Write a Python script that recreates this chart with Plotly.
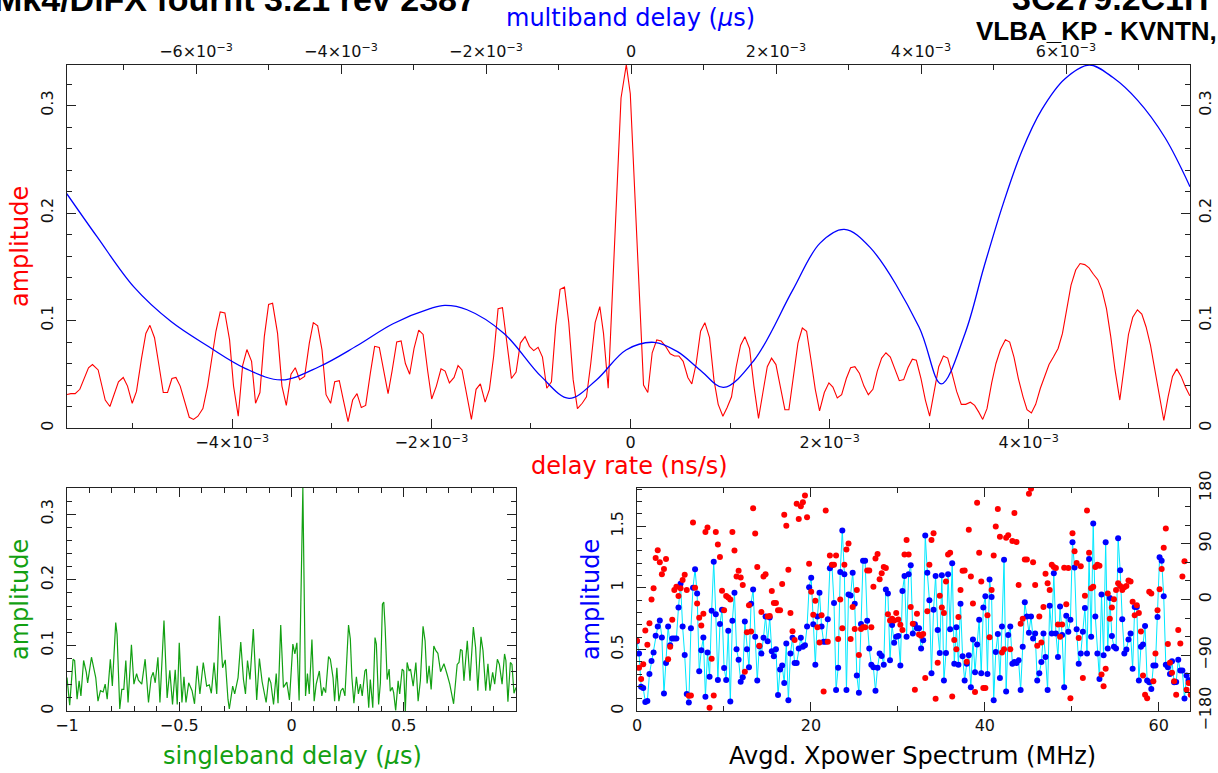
import plotly.graph_objects as go

# ---------------- data ----------------
# delay-rate amplitude (red, top panel); x in units of 1e-3 ns/s
rate_e3 = [-5.671, -5.621, -5.578, -5.531, -5.444, -5.404, -5.347, -5.276, -5.229, -5.143,
           -5.095, -5.052, -5.005, -4.962, -4.911, -4.868, -4.827, -4.781, -4.734, -4.693,
           -4.650, -4.606, -4.566, -4.523, -4.432, -4.389, -4.345, -4.295, -4.248, -4.164,
           -4.121, -4.074, -4.027, -3.987, -3.940, -3.896, -3.853, -3.806, -3.766, -3.722,
           -3.678, -3.635, -3.595, -3.545, -3.501, -3.457, -3.410, -3.367, -3.323, -3.273,
           -3.226, -3.186, -3.142, -3.099, -3.058, -3.012, -2.971, -2.925, -2.884, -2.837,
           -2.791, -2.747, -2.704, -2.660, -2.613, -2.570, -2.523, -2.479, -2.435, -2.395,
           -2.348, -2.304, -2.261, -2.218, -2.174, -2.127, -2.083, -2.037, -1.997, -1.950,
           -1.903, -1.862, -1.819, -1.772, -1.732, -1.692, -1.641, -1.598, -1.551, -1.508,
           -1.460, -1.417, -1.374, -1.330, -1.286, -1.243, -1.196, -1.149, -1.106, -1.059,
           -1.015, -0.972, -0.928, -0.884, -0.841, -0.794, -0.751, -0.707, -0.663, -0.620,
           -0.576, -0.533, -0.485, -0.442, -0.399, -0.355, -0.308, -0.271, -0.224, -0.095,
           -0.042, -0.002, 0.131, 0.174, 0.218, 0.264, 0.308, 0.352, 0.399, 0.442,
           0.486, 0.529, 0.576, 0.616, 0.660, 0.704, 0.747, 0.794, 0.838, 0.881,
           0.928, 0.971, 1.015, 1.062, 1.106, 1.149, 1.196, 1.240, 1.286, 1.330,
           1.374, 1.417, 1.461, 1.504, 1.551, 1.591, 1.635, 1.682, 1.726, 1.769,
           1.812, 1.856, 1.899, 1.947, 1.993, 2.033, 2.077, 2.121, 2.168, 2.211,
           2.254, 2.299, 2.345, 2.389, 2.435, 2.479, 2.523, 2.566, 2.610, 2.656,
           2.700, 2.744, 2.787, 2.831, 2.871, 2.918, 2.962, 3.005, 3.052, 3.096,
           3.143, 3.186, 3.229, 3.276, 3.323, 3.367, 3.414, 3.457, 3.497, 3.538,
           3.581, 3.628, 3.671, 3.716, 3.766, 3.809, 3.852, 3.896, 3.943, 3.983,
           4.027, 4.070, 4.117, 4.161, 4.204, 4.248, 4.295, 4.339, 4.382, 4.425,
           4.472, 4.516, 4.563, 4.606, 4.650, 4.694, 4.737, 4.781, 4.824, 4.867,
           4.915, 4.958, 5.002, 5.045, 5.092, 5.136, 5.179, 5.223, 5.266, 5.310,
           5.357, 5.400, 5.444, 5.487, 5.531, 5.575, 5.618]
rate_amp = [0.031, 0.032, 0.032, 0.036, 0.056, 0.059, 0.054, 0.026, 0.020, 0.043,
            0.047, 0.039, 0.023, 0.034, 0.065, 0.088, 0.0955, 0.084, 0.057, 0.033,
            0.033, 0.046, 0.047, 0.039, 0.010, 0.008, 0.011, 0.018, 0.039, 0.090,
            0.108, 0.107, 0.082, 0.039, 0.011, 0.058, 0.073, 0.062, 0.023, 0.033,
            0.085, 0.115, 0.116, 0.088, 0.039, 0.021, 0.050, 0.056, 0.045, 0.048,
            0.079, 0.098, 0.095, 0.073, 0.031, 0.023, 0.043, 0.044, 0.026, 0.006,
            0.026, 0.032, 0.019, 0.021, 0.051, 0.076, 0.075, 0.054, 0.032, 0.053,
            0.080, 0.081, 0.060, 0.050, 0.074, 0.091, 0.087, 0.053, 0.027, 0.039,
            0.055, 0.053, 0.042, 0.047, 0.058, 0.054, 0.029, 0.008, 0.036, 0.041,
            0.024, 0.036, 0.067, 0.111, 0.112, 0.082, 0.046, 0.052, 0.079, 0.085,
            0.076, 0.072, 0.075, 0.066, 0.037, 0.043, 0.095, 0.129, 0.131, 0.098,
            0.045, 0.018, 0.023, 0.029, 0.060, 0.098, 0.113, 0.088, 0.037, 0.307,
            0.338, 0.311, 0.040, 0.033, 0.070, 0.082, 0.081, 0.076, 0.069, 0.067,
            0.067, 0.062, 0.047, 0.041, 0.060, 0.090, 0.098, 0.084, 0.045, 0.022,
            0.011, 0.019, 0.029, 0.057, 0.077, 0.085, 0.074, 0.039, 0.009, 0.033,
            0.057, 0.065, 0.059, 0.039, 0.017, 0.017, 0.048, 0.079, 0.093, 0.090,
            0.064, 0.036, 0.016, 0.033, 0.042, 0.038, 0.028, 0.031, 0.046, 0.056,
            0.057, 0.051, 0.039, 0.031, 0.036, 0.053, 0.065, 0.070, 0.066, 0.054,
            0.044, 0.045, 0.056, 0.064, 0.063, 0.046, 0.026, 0.011, 0.034, 0.057,
            0.067, 0.065, 0.051, 0.034, 0.022, 0.022, 0.024, 0.021, 0.015, 0.008,
            0.018, 0.042, 0.060, 0.073, 0.082, 0.080, 0.066, 0.046, 0.029, 0.017,
            0.014, 0.022, 0.037, 0.049, 0.059, 0.066, 0.074, 0.088, 0.111, 0.133,
            0.147, 0.153, 0.152, 0.149, 0.143, 0.138, 0.128, 0.111, 0.085, 0.054,
            0.026, 0.057, 0.087, 0.103, 0.110, 0.106, 0.094, 0.077, 0.054, 0.029,
            0.007, 0.029, 0.048, 0.055, 0.048, 0.038, 0.030]

# multiband delay amplitude (blue, top panel); x in units of 1e-3 us
mbd_e3 = [-7.783, -7.366, -6.855, -6.345, -5.834, -5.324, -4.821, -4.303, -3.793, -3.283,
          -2.772, -2.568, -2.262, -1.752, -1.241, -0.855, -0.477, -0.069, 0.317, 0.641,
          0.952, 1.276, 1.697, 2.228, 2.607, 2.941, 3.297, 3.972, 4.279, 4.607,
          4.869, 5.135, 5.393, 5.663, 5.986, 6.324, 6.648, 6.985, 7.366, 7.710]
mbd_amp = [0.218, 0.178, 0.131, 0.099, 0.076, 0.0555, 0.0447, 0.057, 0.076, 0.097,
           0.111, 0.114, 0.110, 0.088, 0.048, 0.0276, 0.0447, 0.0726, 0.0797, 0.071,
           0.054, 0.0378, 0.063, 0.128, 0.172, 0.1848, 0.168, 0.094, 0.041, 0.088,
           0.150, 0.209, 0.258, 0.296, 0.325, 0.3377, 0.326, 0.305, 0.270, 0.2245]

# singleband delay amplitude (green, bottom left); x in us
sbd_x = [-1.000, -0.988, -0.973, -0.966, -0.955, -0.946, -0.938, -0.926, -0.914, -0.908,
         -0.891, -0.879, -0.872, -0.862, -0.851, -0.839, -0.830, -0.821, -0.807, -0.798,
         -0.783, -0.777, -0.765, -0.756, -0.747, -0.738, -0.728, -0.713, -0.702, -0.690,
         -0.682, -0.667, -0.652, -0.637, -0.625, -0.616, -0.607, -0.595, -0.586, -0.568,
         -0.554, -0.542, -0.530, -0.518, -0.509, -0.500, -0.488, -0.479, -0.470, -0.458,
         -0.443, -0.432, -0.420, -0.408, -0.393, -0.378, -0.366, -0.357, -0.345, -0.333,
         -0.321, -0.307, -0.295, -0.283, -0.277, -0.262, -0.253, -0.238, -0.226, -0.214,
         -0.205, -0.196, -0.185, -0.170, -0.155, -0.143, -0.131, -0.113, -0.101, -0.092,
         -0.080, -0.068, -0.060, -0.048, -0.036, -0.021, -0.009, 0.006, 0.015, 0.024,
         0.034, 0.0506, 0.0625, 0.071, 0.079, 0.091, 0.101, 0.110, 0.124, 0.135,
         0.143, 0.152, 0.165, 0.173, 0.185, 0.192, 0.202, 0.211, 0.220, 0.229,
         0.238, 0.254, 0.262, 0.269, 0.278, 0.289, 0.298, 0.307, 0.315, 0.327,
         0.333, 0.344, 0.351, 0.362, 0.372, 0.378, 0.388, 0.396, 0.405, 0.411,
         0.417, 0.426, 0.435, 0.440, 0.449, 0.455, 0.464, 0.475, 0.482, 0.493,
         0.500, 0.507, 0.515, 0.524, 0.530, 0.542, 0.554, 0.564, 0.574, 0.586,
         0.595, 0.604, 0.613, 0.622, 0.634, 0.643, 0.652, 0.664, 0.679, 0.693,
         0.705, 0.722, 0.738, 0.746, 0.753, 0.760, 0.768, 0.783, 0.795, 0.810,
         0.820, 0.830, 0.844, 0.853, 0.865, 0.875, 0.884, 0.896, 0.905, 0.917,
         0.926, 0.938, 0.949, 0.955, 0.964, 0.975, 0.982, 0.991, 1.000]
sbd_amp = [0.051, 0.009, 0.079, 0.077, 0.018, 0.046, 0.023, 0.077, 0.059, 0.043,
           0.082, 0.061, 0.051, 0.015, 0.031, 0.029, 0.041, 0.018, 0.079, 0.038,
           0.135, 0.117, 0.003, 0.033, 0.033, 0.077, 0.013, 0.101, 0.041, 0.057,
           0.047, 0.041, 0.079, 0.013, 0.051, 0.059, 0.043, 0.082, 0.013, 0.138,
           0.020, 0.062, 0.010, 0.063, 0.010, 0.104, 0.013, 0.052, 0.013, 0.043,
           0.031, 0.011, 0.069, 0.026, 0.074, 0.038, 0.040, 0.027, 0.074, 0.026,
           0.145, 0.066, 0.078, 0.018, 0.003, 0.038, 0.026, 0.051, 0.105, 0.048,
           0.026, 0.077, 0.048, 0.125, 0.017, 0.080, 0.045, 0.013, 0.051, 0.043,
           0.010, 0.057, 0.012, 0.131, 0.036, 0.044, 0.017, 0.102, 0.087, 0.104,
           0.016, 0.340, 0.023, 0.057, 0.026, 0.109, 0.015, 0.041, 0.061, 0.023,
           0.036, 0.028, 0.083, 0.079, 0.051, 0.015, 0.066, 0.015, 0.031, 0.035,
           0.023, 0.131, 0.110, 0.051, 0.012, 0.052, 0.026, 0.041, 0.023, 0.061,
           0.064, 0.005, 0.048, 0.005, 0.112, 0.102, 0.010, 0.043, 0.163, 0.166,
           0.128, 0.048, 0.064, 0.030, 0.036, 0.028, 0.001, 0.046, 0.026, 0.064,
           0.061, 0.000, 0.074, 0.061, 0.064, 0.038, 0.074, 0.015, 0.046, 0.129,
           0.107, 0.042, 0.069, 0.033, 0.099, 0.092, 0.088, 0.060, 0.072, 0.056,
           0.041, 0.011, 0.071, 0.074, 0.094, 0.092, 0.046, 0.107, 0.046, 0.128,
           0.097, 0.031, 0.113, 0.092, 0.031, 0.072, 0.031, 0.059, 0.041, 0.079,
           0.071, 0.041, 0.087, 0.077, 0.014, 0.074, 0.071, 0.027, 0.036]

# averaged cross-power spectrum: amplitude (blue) and phase in degrees (red)
chan_mhz = 0.2385  # channel spacing of the spectrum (MHz)
xp_amp = [0.567, 0.466, 0.197, 0.186, 0.074, 0.082, 0.301, 0.405, 0.474, 0.611,
          0.685, 0.734, 0.597, 0.142, 0.389, 0.685, 0.534, 0.589, 0.589, 0.589,
          0.841, 1.033, 0.685, 0.455, 0.137, 0.068, 0.671, 1.000, 1.151, 0.953,
          0.323, 0.493, 0.597, 0.115, 0.474, 0.279, 0.814, 1.211, 0.786, 0.252,
          0.707, 0.822, 0.348, 0.252, 0.652, 0.077, 0.732, 0.959, 0.501, 0.416,
          0.238, 0.274, 0.726, 0.501, 0.356, 0.871, 0.986, 0.603, 0.247, 0.526,
          0.466, 0.595, 0.767, 0.567, 0.759, 0.485, 0.444, 0.501, 0.129, 0.337,
          0.370, 0.227, 0.548, 0.088, 0.466, 0.595, 0.389, 0.389, 0.507, 0.595,
          0.521, 0.534, 0.685, 1.005, 1.082, 0.704, 0.375, 0.767, 0.959, 0.685,
          0.562, 0.562, 0.745, 1.159, 1.184, 0.877, 0.170, 0.351, 1.129, 1.466,
          1.110, 0.170, 0.945, 0.937, 1.123, 0.871, 0.288, 0.148, 0.707, 1.219,
          1.219, 0.732, 0.507, 0.375, 0.356, 0.164, 0.351, 0.466, 0.447, 0.375,
          0.986, 0.953, 0.411, 0.699, 0.553, 0.603, 0.608, 0.370, 0.973, 1.096,
          0.603, 1.110, 1.184, 0.630, 0.704, 0.671, 0.671, 0.507, 0.575, 1.425,
          1.123, 0.899, 0.307, 0.822, 1.096, 0.658, 0.471, 1.101, 0.247, 0.471,
          1.110, 0.663, 1.200, 0.384, 0.679, 0.375, 0.871, 0.444, 0.247, 0.384,
          0.452, 0.192, 0.581, 0.315, 0.540, 0.740, 0.307, 0.841, 0.932, 0.301,
          1.068, 0.926, 0.088, 0.479, 0.625, 0.268, 0.685, 1.227, 0.159, 0.616,
          0.685, 0.384, 0.397, 0.389, 0.411, 0.170, 0.521, 0.882, 0.767, 0.636,
          0.767, 0.589, 0.630, 0.247, 0.307, 0.397, 0.630, 0.438, 0.170, 0.855,
          0.630, 1.118, 0.630, 0.438, 0.849, 0.616, 0.192, 0.773, 0.644, 0.740,
          1.370, 1.164, 0.663, 0.384, 0.466, 0.644, 0.836, 0.466, 1.233, 0.603,
          1.521, 0.767, 0.466, 0.260, 0.945, 0.452, 1.370, 0.507, 0.918, 0.608,
          0.521, 0.507, 1.403, 1.142, 0.745, 0.466, 0.499, 0.581, 0.630, 0.342,
          0.844, 0.844, 0.247, 0.521, 0.540, 0.690, 0.247, 0.233, 0.178, 0.370,
          0.370, 0.762, 1.247, 1.219, 0.932, 0.375, 0.356, 0.301, 0.403, 0.233,
          0.236, 0.416, 0.329, 0.329, 0.101, 0.288, 0.247, 0.252]
xp_phase = [-66.5, -110.2, -128.2, -104.7, -50.2, -73.1, -38.2, 0.0, 18.0, 67.1,
            79.6, 60.0, 40.9, 49.1, 65.5, -96.6, -76.4, -32.7, 15.3, 20.7,
            5.5, 18.0, 31.6, 39.8, 15.3, -155.5, -154.9, 124.4, 19.1, -6.5,
            -29.5, -42.0, -22.9, 109.1, 116.2, -174.6, -95.5, -154.9, 109.1, 88.9,
            68.7, 14.2, -17.5, 5.5, 3.3, 0.0, 109.1, 79.1, 37.1, 46.4,
            35.5, 23.5, -116.7, -52.9, -9.3, -51.8, 147.3, 106.4, 52.4, -74.7,
            -20.2, 37.1, 40.9, -27.3, -26.7, 13.6, -5.5, -5.5, -17.5, -17.5,
            25.1, 136.9, 118.9, 48.0, -21.8, -51.3, -65.5, 154.4, 129.8, 150.6,
            157.1, 168.0, 132.6, 57.8, 12.5, -24.5, -2.2, -44.7, -69.3, -25.6,
            -148.4, 143.5, -68.2, 70.9, 56.2, 56.2, 70.9, -63.8, 0.0, -46.4,
            56.2, 80.7, 90.6, -63.8, -12.0, -47.5, 15.3, -89.5, -47.5, -44.7,
            -44.7, 46.9, 46.9, -44.7, 20.7, 66.0, 73.6, 32.7, 42.5, 52.4,
            50.7, -24.0, -33.8, -31.1, -33.8, -21.8, -32.2, -40.9, -49.1, 72.6,
            96.0, 72.6, -12.0, -39.3, -145.6, -22.9, -56.7, -58.4, -55.6, -126.6,
            -19.1, 56.2, 96.0, 106.9, -160.4, -102.0, 6.0, -13.1, -21.8, 28.9,
            72.6, 75.3, -156.6, -65.5, -80.2, -28.4, 15.3, 46.4, 46.9, -100.4,
            112.4, 37.1, -6.5, -149.5, 156.0, 75.3, 28.9, -142.9, -142.9, -25.6,
            -61.1, 15.3, 70.9, 117.8, 146.2, 101.5, -85.6, -80.2, 99.8, 103.6,
            -80.2, 94.4, 139.6, 92.7, 23.5, -39.3, -31.1, 64.4, 64.4, 170.7,
            178.9, 60.0, 23.5, -74.7, -27.3, -69.3, -12.0, 41.5, 26.2, 15.3,
            56.2, 52.4, 50.7, -40.4, -60.0, -40.4, 51.3, -7.6, 50.7, -159.3,
            106.9, 78.0, 58.9, -62.2, 53.5, -126.6, 6.0, 143.5, 75.3, 18.0,
            20.7, 52.4, 56.2, 54.6, -121.1, -140.2, -111.8, 9.8, -31.1, -13.1,
            0.5, 15.3, 26.2, 21.8, 15.3, 19.6, 21.8, 30.5, 28.9, -3.8,
            -25.6, -9.3, -21.8, -51.8, -122.7, -153.8, -159.3, 12.5, 9.8, -132.0,
            -87.3, -17.5, 16.4, 49.1, 83.5, 114.6, -72.0, -102.0, -118.4, -132.0,
            -153.8, -49.1, -70.9, 37.1, 61.6, -145.6, -134.7, -153.8]

# tick labels
rate_ticks = [-4e-3, -2e-3, 0, 2e-3, 4e-3]
rate_ticktext = ["\u22124\u00d710<sup>\u22123</sup>", "\u22122\u00d710<sup>\u22123</sup>", "0",
                 "2\u00d710<sup>\u22123</sup>", "4\u00d710<sup>\u22123</sup>"]
mbd_ticks = [-6e-3, -4e-3, -2e-3, 0, 2e-3, 4e-3, 6e-3]
mbd_ticktext = ["\u22126\u00d710<sup>\u22123</sup>", "\u22124\u00d710<sup>\u22123</sup>",
                "\u22122\u00d710<sup>\u22123</sup>", "0", "2\u00d710<sup>\u22123</sup>",
                "4\u00d710<sup>\u22123</sup>", "6\u00d710<sup>\u22123</sup>"]
amp_ticks = [0, 0.1, 0.2, 0.3]
amp_ticktext = ["0", "0.1", "0.2", "0.3"]
sbd_ticks = [-1, -0.5, 0, 0.5]
sbd_ticktext = ["\u22121", "\u22120.5", "0", "0.5"]
freq_ticks = [0, 20, 40, 60]
xamp_ticks = [0, 0.5, 1, 1.5]
xamp_ticktext = ["0", "0.5", "1", "1.5"]
phase_ticks = [-180, -90, 0, 90, 180]
phase_ticktext = ["\u2212180", "\u221290", "0", "90", "180"]

# ---------------- figure ----------------
W, H = 1218, 773
FONT = "DejaVu Sans"
RED, BLUE, GREEN = "#ff0000", "#0000ff", "#12a012"

rate_x = [v * 1e-3 for v in rate_e3]
mbd_x = [v * 1e-3 for v in mbd_e3]
freq = [i * chan_mhz for i in range(len(xp_amp))]
freq_ph = [i * chan_mhz for i in range(len(xp_phase))]

fig = go.Figure()
fig.add_trace(go.Scatter(x=rate_x, y=rate_amp, mode="lines", xaxis="x", yaxis="y",
                         line=dict(color=RED, width=1.1)))
fig.add_trace(go.Scatter(x=mbd_x, y=mbd_amp, mode="lines", xaxis="x2", yaxis="y",
                         line=dict(color=BLUE, width=1.3, shape="spline", smoothing=1.0)))
fig.add_trace(go.Scatter(x=sbd_x, y=sbd_amp, mode="lines", xaxis="x3", yaxis="y3",
                         line=dict(color=GREEN, width=1.2)))
fig.add_trace(go.Scatter(x=freq, y=xp_amp, mode="lines+markers", xaxis="x4", yaxis="y4",
                         line=dict(color="#00e8ff", width=1),
                         marker=dict(color=BLUE, size=6, line=dict(width=0))))
fig.add_trace(go.Scatter(x=freq_ph, y=xp_phase, mode="markers", xaxis="x4", yaxis="y5",
                         marker=dict(color=RED, size=6, line=dict(width=0))))
# invisible trace so the right-hand amplitude axis of the top panel is drawn
fig.add_trace(go.Scatter(x=[None], y=[None], xaxis="x", yaxis="y2", showlegend=False))

top_x = [67 / W, 1190 / W]
top_y = [1 - 428 / H, 1 - 65 / H]
bl_x = [67 / W, 516 / W]
br_x = [637 / W, 1190 / W]
bot_y = [1 - 711 / H, 1 - 488 / H]

tickfont = dict(family=FONT, size=16, color="#111")
base = dict(showgrid=False, zeroline=False, showline=True, linecolor="#222", linewidth=1.4,
            ticks="inside", ticklen=9, tickwidth=1.3, tickcolor="#222", tickfont=tickfont,
            automargin=False)
ybase = dict(base, ticklabelstandoff=6)
rbase = dict(base, ticklabelstandoff=1)


def minor(vals, length=5):
    return dict(tickmode="array", tickvals=vals, ticks="inside", ticklen=length,
                tickwidth=1.2, tickcolor="#222")


def frange(a, b, step):
    out, v = [], a
    while v <= b + 1e-12:
        out.append(round(v, 10))
        v += step
    return out


fig.update_layout(
    template="none",
    width=W, height=H, margin=dict(l=0, r=0, t=0, b=0, autoexpand=False),
    paper_bgcolor="white", plot_bgcolor="white", showlegend=False,
    xaxis=dict(base, domain=top_x, anchor="y", range=[-5.66e-3, 5.62e-3], mirror=True,
               tickmode="array", tickvals=rate_ticks, ticktext=rate_ticktext,
               minor=minor(frange(-5e-3, 5e-3, 1e-3))),
    xaxis2=dict(base, overlaying="x", side="top", anchor="y", range=[-7.78e-3, 7.71e-3],
                tickmode="array", tickvals=mbd_ticks, ticktext=mbd_ticktext,
                minor=minor(frange(-7e-3, 7e-3, 1e-3))),
    yaxis=dict(ybase, domain=top_y, anchor="x", range=[0, 0.3377], mirror=True,
               tickmode="array", tickvals=amp_ticks, ticktext=amp_ticktext, tickangle=-90,
               minor=minor(frange(0, 0.33, 0.02))),
    yaxis2=dict(rbase, overlaying="y", side="right", anchor="x", range=[0, 0.3377],
                tickmode="array", tickvals=amp_ticks, ticktext=amp_ticktext, tickangle=-90,
                minor=minor(frange(0, 0.33, 0.02))),
    xaxis3=dict(base, domain=bl_x, anchor="y3", range=[-1, 1.0], mirror="ticks",
                tickmode="array", tickvals=sbd_ticks, ticktext=sbd_ticktext,
                minor=minor(frange(-0.9, 0.9, 0.1))),
    yaxis3=dict(ybase, domain=bot_y, anchor="x3", range=[0, 0.34], mirror="ticks",
                tickmode="array", tickvals=amp_ticks, ticktext=amp_ticktext, tickangle=-90,
                minor=minor(frange(0, 0.34, 0.02))),
    xaxis4=dict(base, domain=br_x, anchor="y4", range=[0, 63.6], mirror="ticks",
                tickmode="array", tickvals=freq_ticks, ticktext=[str(v) for v in freq_ticks],
                minor=minor(frange(10, 60, 10))),
    yaxis4=dict(ybase, domain=bot_y, anchor="x4", range=[0, 1.81], mirror=True,
                tickmode="array", tickvals=xamp_ticks, ticktext=xamp_ticktext, tickangle=-90,
                minor=minor(frange(0.1, 1.8, 0.1))),
    yaxis5=dict(rbase, overlaying="y4", side="right", anchor="x4", range=[-180, 180],
                tickmode="array", tickvals=phase_ticks, ticktext=phase_ticktext, tickangle=-90,
                minor=minor(frange(-150, 150, 30))),
)

TF = 24


def ann(text, x, y, color, size=TF, angle=0, xanchor="center", yanchor="middle",
        family=FONT):
    fig.add_annotation(text=text, x=x / W, y=1 - y / H, xref="paper", yref="paper",
                       showarrow=False, textangle=angle, xanchor=xanchor, yanchor=yanchor,
                       font=dict(family=family, size=size, color=color))


ann("multiband delay (<i>\u03bc</i>s)", 630, 18, BLUE)
ann("delay rate (ns/s)", 629, 466, RED)
ann("amplitude", 20, 247, RED, angle=-90)
ann("amplitude", 20, 600, GREEN, angle=-90)
ann("singleband delay (<i>\u03bc</i>s)", 292, 756, GREEN)
ann("amplitude", 591, 600, BLUE, angle=-90)
ann("Avgd. Xpower Spectrum (MHz)", 912, 756, "black")
ann("<b>Mk4/DiFX fourfit 3.21 rev 2387</b>", -8, -1, "black", size=34,
    xanchor="left", family="Liberation Sans")
ann("<b>3C279.2C1H</b>", 1010, -2, "black", size=34, xanchor="left", family="Liberation Sans")
ann("<b>VLBA_KP - KVNTN, LL</b>", 974, 31, "black", size=26, xanchor="left",
    family="Liberation Sans")

fig.write_html("out.html", config={"displayModeBar": False},
               post_script="document.body.style.margin='0';")
